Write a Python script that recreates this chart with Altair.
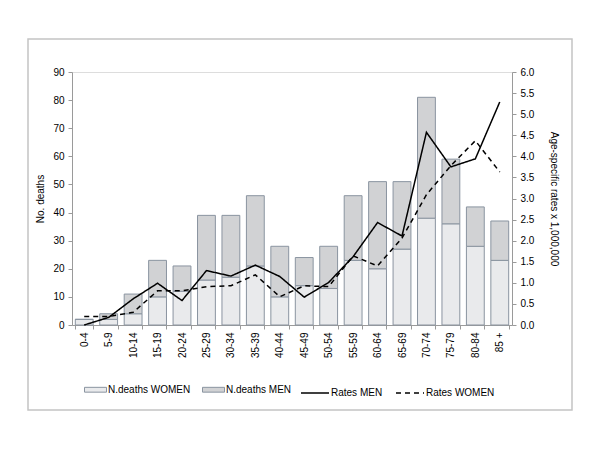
import altair as alt
import pandas as pd

ages = ["0-4", "5-9", "10-14", "15-19", "20-24", "25-29", "30-34", "35-39", "40-44",
        "45-49", "50-54", "55-59", "60-64", "65-69", "70-74", "75-79", "80-84", "85 +"]
deaths_women = [2, 2, 4, 10, 12, 16, 17, 21, 10, 14, 13, 23, 20, 27, 38, 36, 28, 23]
deaths_men = [0, 2, 7, 13, 9, 23, 22, 25, 18, 10, 15, 23, 31, 24, 43, 23, 14, 14]
rates_men = [0.0, 0.18, 0.62, 0.99, 0.58, 1.29, 1.16, 1.42, 1.15, 0.66,
             1.01, 1.62, 2.43, 2.11, 4.57, 3.75, 3.94, 5.29]
rates_women = [0.2, 0.2, 0.3, 0.81, 0.81, 0.91, 0.93, 1.19, 0.67, 0.93,
               0.91, 1.64, 1.40, 2.06, 3.09, 3.78, 4.37, 3.63]

bar_rows = []
for i, a in enumerate(ages):
    bar_rows.append({"age": a, "series": "N.deaths WOMEN", "ord": 0, "deaths": deaths_women[i]})
    bar_rows.append({"age": a, "series": "N.deaths MEN", "ord": 1, "deaths": deaths_men[i]})
bars_df = pd.DataFrame(bar_rows)

line_rows = []
for i, a in enumerate(ages):
    line_rows.append({"age": a, "series": "Rates MEN", "rate": rates_men[i]})
    line_rows.append({"age": a, "series": "Rates WOMEN", "rate": rates_women[i]})
lines_df = pd.DataFrame(line_rows)

FONT = "Liberation Sans"
AXC = "#9a9a9a"

xenc = alt.X("age:N", sort=ages, title=None,
             scale=alt.Scale(paddingInner=0.27, paddingOuter=0.135),
             axis=alt.Axis(labelAngle=270, tickBand="extent", domainColor=AXC,
                           tickColor=AXC, tickSize=4, labelPadding=3,
                           labelFontSize=10, labelFont=FONT, labelColor="black"))

bars = alt.Chart(bars_df).mark_bar(stroke="#8a94a0", strokeWidth=1).encode(
    x=xenc,
    y=alt.Y("deaths:Q", stack="zero", title="No. deaths",
            scale=alt.Scale(domain=[0, 90], nice=False),
            axis=alt.Axis(values=list(range(0, 91, 10)), grid=False, domainColor=AXC,
                          tickColor=AXC, tickSize=4, labelPadding=4,
                          labelFontSize=10, labelFont=FONT, labelColor="black",
                          titleFont=FONT, titleFontSize=10, titleFontWeight="normal",
                          titleColor="black", titlePadding=7)),
    color=alt.Color("series:N",
                    scale=alt.Scale(domain=["N.deaths WOMEN", "N.deaths MEN"],
                                    range=["#e9eaec", "#d1d2d4"]),
                    legend=alt.Legend(title=None, orient="none", direction="horizontal",
                                      legendX=12, legendY=306,
                                      symbolType="M-1,-0.22H1V0.22H-1Z", symbolSize=484,
                                      symbolStrokeColor="#8a94a0", symbolStrokeWidth=1,
                                      labelFont=FONT, labelFontSize=10, labelColor="black",
                                      labelOffset=1, columnPadding=9)),
    order=alt.Order("ord:Q", sort="ascending"),
)

lines = alt.Chart(lines_df).mark_line(color="black", strokeWidth=1.5).encode(
    x=alt.X("age:N", sort=ages),
    y=alt.Y("rate:Q", title="Age-specific rates x 1,000,000",
            scale=alt.Scale(domain=[0, 6], nice=False),
            axis=alt.Axis(orient="right", values=[i * 0.5 for i in range(13)], format=".1f",
                          grid=False, domainColor=AXC, tickColor=AXC, tickSize=4,
                          labelPadding=4, labelFontSize=10, labelFont=FONT,
                          labelColor="black", titleFont=FONT, titleFontSize=10,
                          titleFontWeight="normal", titleColor="black", titlePadding=15)),
    strokeDash=alt.StrokeDash("series:N",
                              scale=alt.Scale(domain=["Rates MEN", "Rates WOMEN"],
                                              range=[[1, 0], [5, 4]]),
                              legend=alt.Legend(title=None, orient="none",
                                                direction="horizontal",
                                                legendX=228, legendY=306,
                                                symbolType="stroke", symbolSize=784,
                                                symbolStrokeColor="black",
                                                symbolStrokeWidth=1.5,
                                                labelFont=FONT, labelFontSize=10,
                                                labelColor="black", labelOffset=1,
                                                columnPadding=10)),
)

frame = alt.Chart(alt.Data(values=[{"f": 1}])).mark_rect(
    fill=None, stroke="#c4c4c4", strokeWidth=1.5, clip=False
).encode(
    x=alt.value(-44), x2=alt.value(500), y=alt.value(-33), y2=alt.value(338)
)

chart = alt.layer(frame, bars, lines).resolve_scale(
    y="independent", color="independent", strokeDash="independent"
).properties(
    width=440, height=253,
    padding={"left": 64, "top": 64, "right": 80, "bottom": 117},
    autosize=alt.AutoSizeParams(type="none"),
).configure_view(stroke=None).configure(background="white")

chart.save("out.html", embed_options={"renderer": "svg", "actions": False})
